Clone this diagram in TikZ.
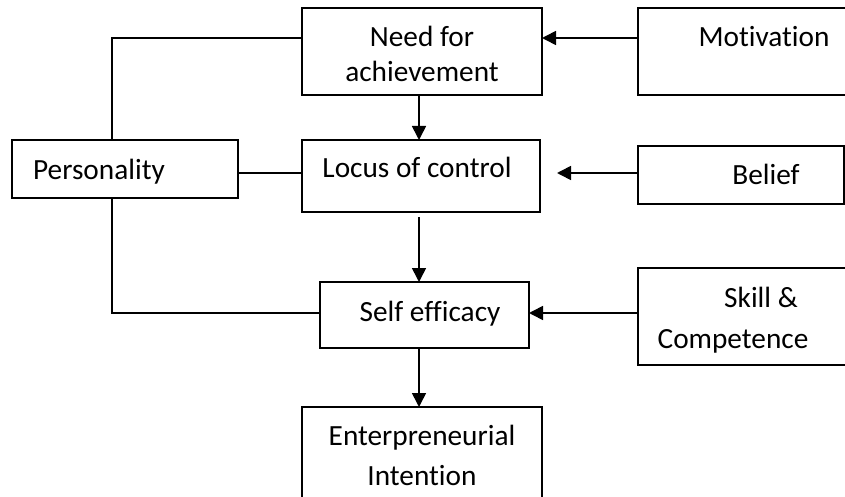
\documentclass[tikz,border=0pt]{standalone}
\usepackage{fontspec}
\setmainfont{Carlito}[Ligatures=NoCommon]
\usetikzlibrary{arrows.meta}
\begin{document}
\begin{tikzpicture}[x=1pt,y=-1pt,
  box/.style={draw, line width=1.7pt, rectangle, inner sep=0pt, outer sep=0pt, anchor=north west},
  lbl/.style={anchor=base, inner sep=0pt, font=\fontsize{29.3}{34}\selectfont},
  link/.style={line width=1.6pt},
  arr/.style={line width=1.6pt, -{Triangle[length=14pt,width=14pt]}}]
\useasboundingbox (0,0) rectangle (845,497);
\clip (0,0) rectangle (845,497);

% boxes
\node[box, minimum width=240pt, minimum height=87pt]  (need)   at (302,8)   {};
\node[box, minimum width=230pt, minimum height=87pt]  (motiv)  at (638,8)   {};
\node[box, minimum width=226pt, minimum height=58pt]  (pers)   at (12,140)  {};
\node[box, minimum width=238pt, minimum height=72pt]  (locus)  at (302,140) {};
\node[box, minimum width=206pt, minimum height=58pt]  (belief) at (638,146) {};
\node[box, minimum width=209pt, minimum height=66pt]  (self)   at (320,282) {};
\node[box, minimum width=230pt, minimum height=97pt]  (skill)  at (638,268) {};
\node[box, minimum width=240pt, minimum height=100pt] (ent)    at (302,407) {};

% texts
\node[lbl] (needA) at (422,47)  {Need for};
\node[lbl] (needB) at (422,82)  {achievement};
\node[lbl] (motivT) at (764,47) {Motivation};
\node[lbl] (persT) at (99,179)  {Personality};
\node[lbl] (locusT) at (417,178) {Locus of control};
\node[lbl] (beliefT) at (766,185) {Belief};
\node[lbl] (selfT) at (430,321) {Self efficacy};
\node[lbl] (skillA) at (761,307) {Skill \&};
\node[lbl] (skillB) at (733,348) {Competence};
\node[lbl] (entA) at (422,445) {Enterpreneurial};
\node[lbl] (entB) at (422,485) {Intention};

% helper coordinates for connector rows and columns
\coordinate (pcol) at (112,0);
\coordinate (acol) at (419,0);
\coordinate (row1) at (0,38);
\coordinate (row2) at (0,173);
\coordinate (row3) at (0,313);
\coordinate (lsb) at ([yshift=-5pt]locus.south);
\coordinate (lse) at ([xshift=17pt]locus.east);

% plain links from Personality
\draw[link] (pers.north -| pcol) |- (need.west |- row1);
\draw[link] (pers.east |- row2) -- (locus.west |- row2);
\draw[link] (pers.south -| pcol) |- (self.west |- row3);

% arrows
\draw[arr] (motiv.west |- row1) -- (need.east |- row1);
\draw[arr] (belief.west |- row2) -- (lse |- row2);
\draw[arr] (skill.west |- row3) -- (self.east |- row3);
\draw[arr] (need.south -| acol) -- (locus.north -| acol);
\draw[arr] (lsb -| acol) -- (self.north -| acol);
\draw[arr] (self.south -| acol) -- (ent.north -| acol);
\end{tikzpicture}
\end{document}
